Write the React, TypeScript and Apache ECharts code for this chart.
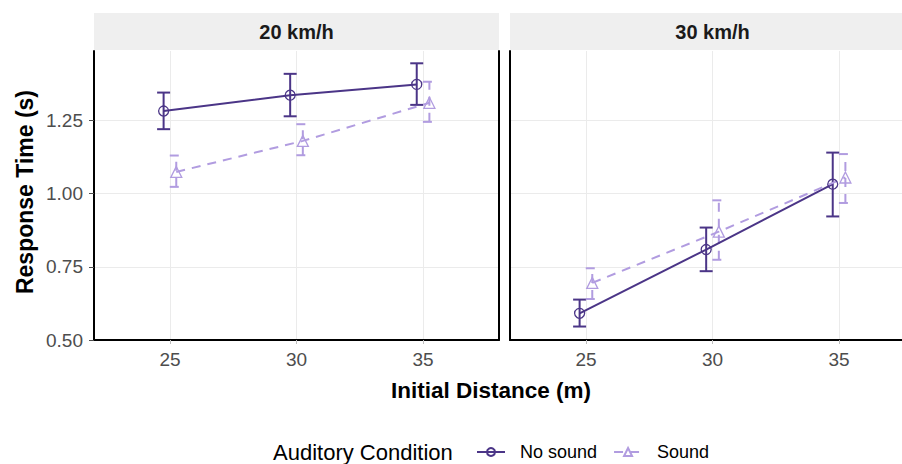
import React, { useEffect, useRef } from "react";
import * as echarts from "echarts";

const panels = ["20 km/h", "30 km/h"];
const distances = [25, 30, 35];
const conditions = ["No sound", "Sound"];
const dodge = [-0.25, 0.25];

// mean response time per panel, per condition
const mean20NoSound = [1.282, 1.336, 1.373];
const low20NoSound = [1.22, 1.264, 1.303];
const high20NoSound = [1.345, 1.409, 1.445];
const mean20Sound = [1.074, 1.18, 1.31];
const low20Sound = [1.023, 1.131, 1.245];
const high20Sound = [1.13, 1.237, 1.382];

const mean30NoSound = [0.591, 0.809, 1.032];
const low30NoSound = [0.546, 0.735, 0.922];
const high30NoSound = [0.638, 0.884, 1.14];
const mean30Sound = [0.695, 0.87, 1.055];
const low30Sound = [0.64, 0.774, 0.968];
const high30Sound = [0.745, 0.977, 1.135];

const yTicks = [0.5, 0.75, 1.0, 1.25];

const DARK = "#4B3587";
const LIGHT = "#B19CE0";
const FONT = "Liberation Sans, Arial, sans-serif";

export default function App() {
  const ref = useRef<HTMLDivElement>(null);
  useEffect(() => {
    if (!ref.current) return;
    const chart = echarts.init(ref.current, null, { renderer: "svg" });

    const means = [
      [mean20NoSound, mean20Sound],
      [mean30NoSound, mean30Sound],
    ];
    const lows = [
      [low20NoSound, low20Sound],
      [low30NoSound, low30Sound],
    ];
    const highs = [
      [high20NoSound, high20Sound],
      [high30NoSound, high30Sound],
    ];
    const colors = [DARK, LIGHT];
    const dashes: (number[] | null)[] = [null, [9, 7]];

    const gridLefts = [94, 510];
    const grids = gridLefts.map((l) => ({ left: l, top: 51, width: 405, height: 289 }));

    const xAxes: any[] = [];
    const yAxes: any[] = [];
    panels.forEach((_, p) => {
      xAxes.push({
        type: "value",
        gridIndex: p,
        min: 22,
        max: 38,
        axisLine: { show: true, onZero: false, lineStyle: { color: "#000", width: 2 } },
        axisTick: {
          show: true,
          customValues: distances,
          length: 4,
          lineStyle: { color: "#BDBDBD", width: 1 },
        },
        splitLine: { show: false },
        axisLabel: {
          customValues: distances,
          color: "#4D4D4D",
          fontSize: 19,
          fontFamily: FONT,
          margin: 10,
        },
      });
      yAxes.push({
        type: "value",
        gridIndex: p,
        min: 0.5,
        max: 1.487,
        interval: 0.25,
        axisLine: { show: true, onZero: false, lineStyle: { color: "#000", width: 2 } },
        axisTick: {
          show: p === 0,
          customValues: yTicks,
          length: 5,
          lineStyle: { color: "#4D4D4D", width: 1 },
        },
        splitLine: { show: true, lineStyle: { color: "#EBEBEB", width: 1 } },
        axisLabel: {
          show: p === 0,
          customValues: yTicks,
          formatter: (v: number) => v.toFixed(2),
          color: "#4D4D4D",
          fontSize: 19,
          fontFamily: FONT,
          margin: 11,
        },
      });
    });
    // right border of the first panel
    yAxes.push({
      type: "value",
      gridIndex: 0,
      position: "right",
      min: 0.5,
      max: 1.487,
      axisLine: { show: true, onZero: false, lineStyle: { color: "#000", width: 2 } },
      axisTick: { show: false },
      axisLabel: { show: false },
      splitLine: { show: false },
    });

    const series: any[] = [];
    // vertical gridlines
    panels.forEach((_, p) => {
      series.push({
        type: "line",
        name: "grid" + p,
        xAxisIndex: p,
        yAxisIndex: p,
        data: [],
        silent: true,
        z: 0,
        markLine: {
          silent: true,
          symbol: "none",
          z: 0,
          label: { show: false },
          lineStyle: { color: "#EBEBEB", width: 1, type: "solid" },
          data: distances.map((d) => ({ xAxis: d })),
        },
      });
    });

    conditions.forEach((cond, c) => {
      panels.forEach((_, p) => {
        series.push({
          type: "line",
          name: cond,
          xAxisIndex: p,
          yAxisIndex: p,
          z: 3,
          data: distances.map((d, i) => [d + dodge[c], means[p][c][i]]),
          symbol: c === 0 ? "circle" : "triangle",
          symbolSize: c === 0 ? 10 : 11,
          lineStyle: { color: colors[c], width: 2, type: c === 0 ? "solid" : [9, 7] },
          itemStyle: { color: "rgba(255,255,255,0)", borderColor: colors[c], borderWidth: 1.3 },
        });
      });
    });
    conditions.forEach((cond, c) => {
      panels.forEach((_, p) => {
        series.push({
          type: "custom",
          name: cond,
          xAxisIndex: p,
          yAxisIndex: p,
          z: 3,
          data: distances.map((d, i) => [d + dodge[c], lows[p][c][i], highs[p][c][i]]),
          renderItem: (params: any, api: any) => {
            const x = api.value(0);
            const lo = api.coord([x, api.value(1)]);
            const hi = api.coord([x, api.value(2)]);
            const w = 6.5;
            const style: any = { stroke: colors[c], lineWidth: 2, fill: null };
            if (dashes[c]) style.lineDash = dashes[c];
            return {
              type: "group",
              children: [
                { type: "line", shape: { x1: lo[0], y1: lo[1], x2: hi[0], y2: hi[1] }, style },
                { type: "line", shape: { x1: lo[0] - w, y1: lo[1], x2: lo[0] + w, y2: lo[1] }, style },
                { type: "line", shape: { x1: hi[0] - w, y1: hi[1], x2: hi[0] + w, y2: hi[1] }, style },
              ],
            };
          },
        });
      });
    });

    const graphic: any[] = [];
    panels.forEach((name, p) => {
      graphic.push({
        type: "rect",
        shape: { x: gridLefts[p], y: 13, width: 405, height: 37 },
        style: { fill: "#EFEFEF" },
        z: -1,
      });
      graphic.push({
        type: "text",
        x: gridLefts[p] + 202.5,
        y: 32,
        style: {
          text: name,
          fill: "#1A1A1A",
          font: `bold 20px ${FONT}`,
          align: "center",
          verticalAlign: "middle",
        },
      });
    });
    graphic.push({
      type: "text",
      x: 25,
      y: 192,
      rotation: Math.PI / 2,
      style: {
        text: "Response Time (s)",
        fill: "#000",
        font: `bold 23px ${FONT}`,
        align: "center",
        verticalAlign: "middle",
      },
    });
    graphic.push({
      type: "text",
      x: 491,
      y: 390,
      style: {
        text: "Initial Distance (m)",
        fill: "#000",
        font: `bold 22.5px ${FONT}`,
        align: "center",
        verticalAlign: "middle",
      },
    });
    graphic.push({
      type: "text",
      x: 273,
      y: 452,
      style: {
        text: "Auditory Condition",
        fill: "#000",
        font: `22px ${FONT}`,
        align: "left",
        verticalAlign: "middle",
      },
    });

    chart.setOption({
      animation: false,
      backgroundColor: "#fff",
      grid: grids,
      xAxis: xAxes,
      yAxis: yAxes,
      series,
      graphic,
      legend: {
        data: conditions,
        left: 476,
        top: 443,
        padding: 0,
        itemWidth: 28,
        itemHeight: 10,
        itemGap: 16,
        textStyle: {
          fontSize: 18,
          fontFamily: FONT,
          color: "#000",
          padding: [0, 0, 0, 10],
        },
      },
    });
    return () => chart.dispose();
  }, []);
  return (
    <div
      style={{
        position: "absolute",
        left: 0,
        top: 0,
        width: 902,
        height: 464,
        overflow: "hidden",
        background: "#fff",
      }}
    >
      <div ref={ref} style={{ width: 930, height: 464 }} />
    </div>
  );
}
